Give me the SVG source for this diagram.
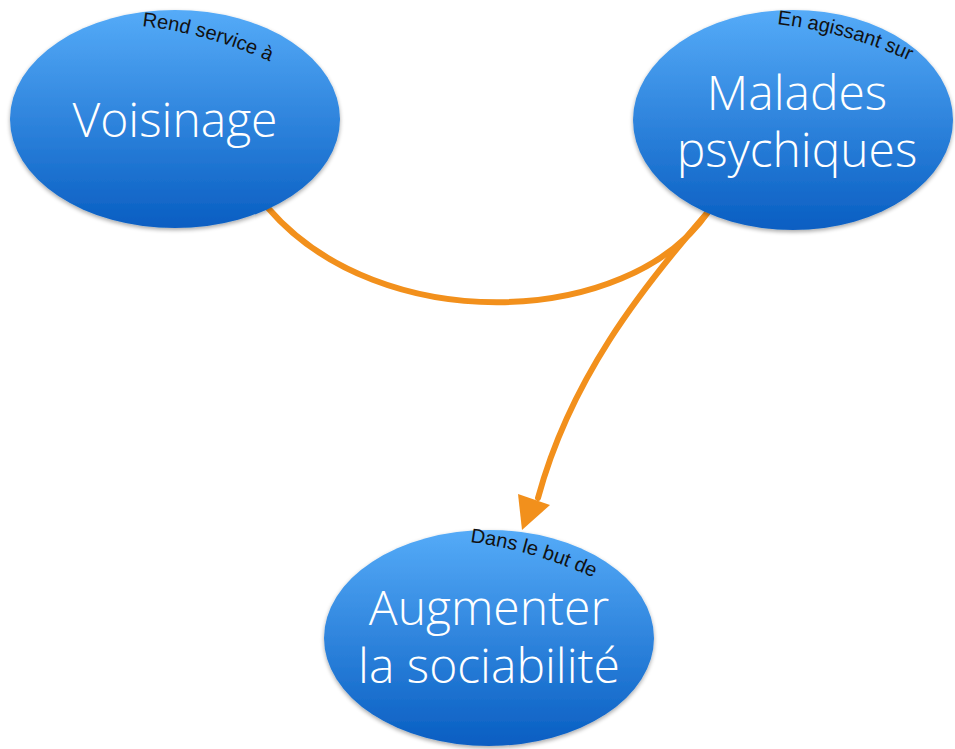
<svg xmlns="http://www.w3.org/2000/svg" width="955" height="749" viewBox="0 0 955 749">
<defs>
<linearGradient id="blue" x1="0" y1="0" x2="0" y2="1">
<stop offset="0" stop-color="#55abf8"/>
<stop offset="1" stop-color="#095ec2"/>
</linearGradient>
<filter id="sh" x="-10%" y="-10%" width="120%" height="125%">
<feGaussianBlur in="SourceAlpha" stdDeviation="2"/>
<feOffset dy="2" result="b"/>
<feComponentTransfer><feFuncA type="linear" slope="0.35"/></feComponentTransfer>
<feMerge><feMergeNode/><feMergeNode in="SourceGraphic"/></feMerge>
</filter>
<path id="p1" d="M142,26 Q 215,34 288,70"/>
<path id="p2" d="M777,24 Q 860,34 928,70"/>
<path id="p3" d="M470,542 Q 545,552 615,588"/>
</defs>
<style>
.node{fill:url(#blue);filter:url(#sh)}
.big{font-family:"Open Sans","Liberation Sans",sans-serif;font-weight:300;fill:#ffffff;font-size:48px;text-anchor:middle}
.small{font-family:"Liberation Sans",Arial,sans-serif;fill:#111111;font-size:20px}
.conn{fill:none;stroke:#f2901c;stroke-width:6;stroke-linecap:round}
.head{fill:#f2901c}
</style>
<rect width="955" height="749" fill="#ffffff"/>
<g id="connectors">
<path class="conn" d="M268,208 C 380,338 628,328 708,212"/>
<path class="conn" d="M708,212 C 640,290 570,380 538,498"/>
<polygon class="head" points="518,494 550,505 522,530"/>
</g>
<g id="voisinage">
<ellipse class="node" cx="175" cy="119" rx="165" ry="109"/>
<text class="big" x="175" y="137">Voisinage</text>
<text class="small"><textPath href="#p1">Rend service à</textPath></text>
</g>
<g id="malades">
<ellipse class="node" cx="793" cy="120" rx="160" ry="110"/>
<text class="big" x="797" y="110">Malades</text>
<text class="big" x="797" y="167">psychiques</text>
<text class="small"><textPath href="#p2">En agissant sur</textPath></text>
</g>
<g id="augmenter">
<ellipse class="node" cx="489" cy="638" rx="165" ry="108"/>
<text class="big" x="489" y="625">Augmenter</text>
<text class="big" x="489" y="683">la sociabilité</text>
<text class="small"><textPath href="#p3">Dans le but de</textPath></text>
</g>
</svg>
